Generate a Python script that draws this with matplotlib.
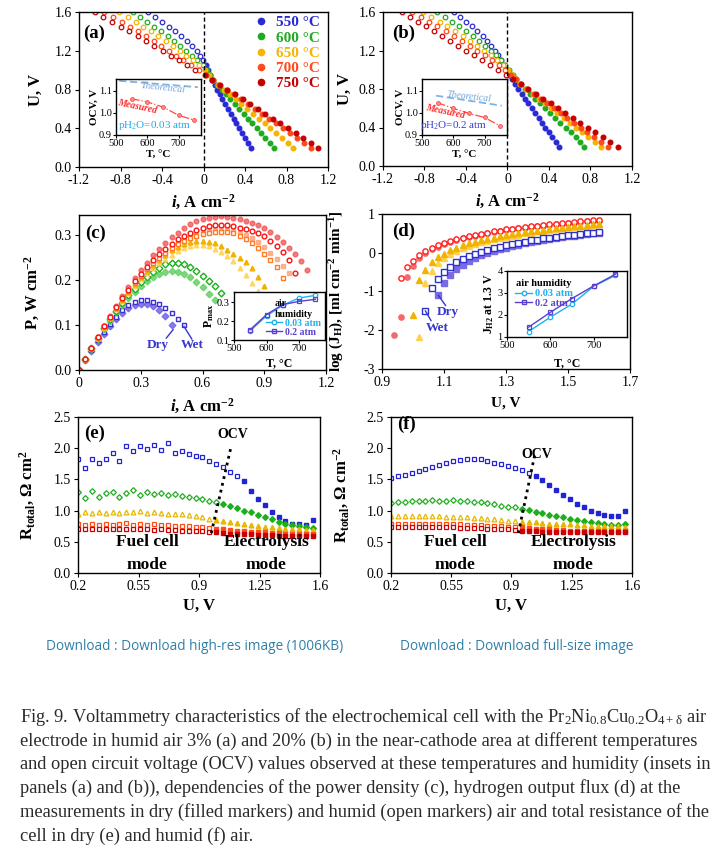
import numpy as np
import matplotlib
matplotlib.use("Agg")
import matplotlib.pyplot as plt
from matplotlib.lines import Line2D

nan = np.nan

# ---- data ----
temps = [550, 600, 650, 700, 750]
temp_labels = ["550 °C", "600 °C", "650 °C", "700 °C", "750 °C"]

# (a), (b): current density at each voltage step
U_iv = [1.60, 1.55, 1.50, 1.45, 1.40, 1.35, 1.30, 1.25, 1.20, 1.15, 1.10, 1.05, 1.00, 0.95,
        0.90, 0.85, 0.80, 0.75, 0.70, 0.65, 0.60, 0.55, 0.50, 0.45, 0.40, 0.35, 0.30, 0.25, 0.20]
ia_550 = [-0.532, -0.47, -0.40, -0.337, -0.275, -0.215, -0.16, -0.107, -0.065, -0.033, -0.005, 0.02, 0.04, 0.062,
          0.085, 0.109, 0.133, 0.158, 0.183, 0.209, 0.235, 0.262, 0.29, 0.318, 0.344, 0.37, 0.397, 0.426, 0.455]
ia_600 = [-0.68, -0.61, -0.54, -0.475, -0.41, -0.345, -0.285, -0.225, -0.17, -0.115, -0.065, -0.005, 0.03, 0.062,
          0.094, 0.134, 0.176, 0.218, 0.26, 0.302, 0.344, 0.386, 0.428, 0.47, 0.512, 0.554, 0.596, 0.638, 0.68]
ia_650 = [-0.81, -0.73, -0.655, -0.58, -0.505, -0.435, -0.365, -0.295, -0.23, -0.165, -0.105, -0.045, 0.015, 0.054,
          0.092, 0.144, 0.20, 0.255, 0.31, 0.366, 0.421, 0.477, 0.532, 0.588, 0.644, 0.699, 0.755, 0.81, 0.866]
ia_700 = [-0.956, -0.87, -0.79, -0.71, -0.63, -0.555, -0.48, -0.405, -0.335, -0.265, -0.195, -0.125, -0.04, 0.025,
          0.089, 0.154, 0.222, 0.29, 0.357, 0.425, 0.492, 0.56, 0.627, 0.695, 0.762, 0.83, 0.898, 0.965, 1.033]
ia_750 = [-1.046, -0.964, -0.882, -0.80, -0.718, -0.636, -0.555, -0.474, -0.394, -0.314, -0.235, -0.157, -0.08, 0.012,
          0.086, 0.158, 0.231, 0.304, 0.377, 0.45, 0.523, 0.596, 0.669, 0.742, 0.815, 0.888, 0.961, 1.034, 1.107]
ib_550 = [-0.514, -0.455, -0.40, -0.345, -0.29, -0.24, -0.195, -0.155, -0.12, -0.088, -0.06, -0.033, -0.008, 0.018,
          0.045, 0.073, 0.103, 0.135, 0.168, 0.20, 0.233, 0.266, 0.299, 0.332, 0.365, 0.398, 0.432, 0.465, 0.498]
ib_600 = [-0.678, -0.605, -0.535, -0.465, -0.40, -0.335, -0.275, -0.215, -0.16, -0.11, -0.065, -0.022, 0.018, 0.052,
          0.085, 0.122, 0.17, 0.218, 0.267, 0.315, 0.364, 0.412, 0.46, 0.51, 0.56, 0.61, 0.66, 0.70, 0.739]
ib_650 = [-0.814, -0.735, -0.655, -0.58, -0.505, -0.43, -0.36, -0.29, -0.225, -0.16, -0.10, -0.045, 0.005, 0.045,
          0.085, 0.124, 0.183, 0.243, 0.302, 0.362, 0.422, 0.481, 0.541, 0.601, 0.661, 0.72, 0.78, 0.84, 0.90]
ib_700 = [-0.916, -0.835, -0.755, -0.675, -0.595, -0.515, -0.44, -0.365, -0.29, -0.22, -0.15, -0.085, -0.02, 0.035,
          0.085, 0.126, 0.19, 0.255, 0.319, 0.384, 0.448, 0.513, 0.577, 0.642, 0.706, 0.771, 0.835, 0.90, 0.964]
ib_750 = [-1.013, -0.935, -0.858, -0.781, -0.705, -0.628, -0.551, -0.475, -0.40, -0.323, -0.246, -0.17, -0.092, -0.015,
          0.057, 0.129, 0.20, 0.272, 0.344, 0.415, 0.487, 0.559, 0.631, 0.702, 0.774, 0.846, 0.918, 0.989, 1.061]

# insets (a), (b): OCV vs T
T_theor_a = [510, 762]
ocv_theor_a = [1.144, 1.115]
ocv_meas_a = [1.063, 1.049, 1.026, 0.989, 0.967]
T_theor_b = [545, 755]
ocv_theor_b = [1.077, 1.032]
ocv_meas_b = [1.045, 1.020, 0.997, 0.979, 0.941]

# (c): power density vs current density
i_c = [0.00, 0.03, 0.06, 0.09, 0.12, 0.15, 0.18, 0.21, 0.24, 0.27, 0.30, 0.33, 0.36, 0.39, 0.42, 0.45, 0.48, 0.51,
       0.54, 0.57, 0.60, 0.63, 0.66, 0.69, 0.72, 0.75, 0.78, 0.81, 0.84, 0.87, 0.90, 0.93, 0.96, 0.99, 1.02, 1.05,
       1.08, 1.11]
P_750_dry = [0, 0.025, 0.050, 0.074, 0.098, 0.121, 0.143, 0.165, 0.185, 0.204, 0.222, 0.239, 0.255, 0.270, 0.283,
             0.295, 0.306, 0.316, 0.324, 0.331, 0.336, 0.339, 0.341, 0.342, 0.341, 0.339, 0.336, 0.332, 0.327, 0.322,
             0.315, 0.307, 0.297, 0.285, 0.272, 0.259, 0.242, 0.222]
P_750_wet = [0, 0.025, 0.050, 0.074, 0.097, 0.119, 0.140, 0.160, 0.179, 0.197, 0.214, 0.230, 0.245, 0.258, 0.270,
             0.281, 0.291, 0.299, 0.306, 0.312, 0.317, 0.320, 0.322, 0.323, 0.322, 0.320, 0.317, 0.313, 0.309, 0.304,
             0.298, 0.288, 0.276, 0.262, 0.245, 0.215]
P_700_wet = [0, 0.025, 0.050, 0.074, 0.097, 0.118, 0.139, 0.158, 0.176, 0.193, 0.209, 0.224, 0.238, 0.250, 0.261,
             0.271, 0.280, 0.288, 0.294, 0.299, 0.303, 0.306, 0.308, 0.308, 0.307, 0.304, 0.299, 0.292, 0.283, 0.272,
             0.259, 0.245, 0.229, 0.205]
P_700_dry = [0, 0.025, 0.050, 0.074, 0.097, 0.119, 0.140, 0.160, 0.178, 0.196, 0.212, 0.228, 0.242, 0.255, 0.267,
             0.277, 0.287, 0.295, 0.302, 0.307, 0.311, 0.314, 0.315, 0.315, 0.314, 0.311, 0.307, 0.301, 0.293, 0.284,
             0.273, 0.261, 0.247, 0.232, 0.215]
P_650_wet = [0, 0.025, 0.050, 0.073, 0.096, 0.117, 0.137, 0.156, 0.174, 0.191, 0.206, 0.220, 0.233, 0.245, 0.256,
             0.266, 0.274, 0.281, 0.286, 0.288, 0.288, 0.286, 0.282, 0.276, 0.268, 0.259, 0.250, 0.240, 0.226, 0.207,
             0.187]
P_650_dry = [0, 0.025, 0.049, 0.072, 0.094, 0.115, 0.135, 0.153, 0.171, 0.187, 0.202, 0.215, 0.227, 0.238, 0.248,
             0.257, 0.265, 0.271, 0.276, 0.278, 0.278, 0.275, 0.270, 0.263, 0.254, 0.242, 0.228, 0.212, 0.194, 0.176]
P_600_wet = [0, 0.024, 0.048, 0.071, 0.093, 0.113, 0.132, 0.150, 0.166, 0.181, 0.195, 0.208, 0.219, 0.228, 0.235,
             0.238, 0.238, 0.235, 0.229, 0.221, 0.210, 0.198, 0.186, 0.172]
P_600_dry = [0, 0.024, 0.047, 0.070, 0.091, 0.110, 0.128, 0.145, 0.160, 0.174, 0.186, 0.197, 0.206, 0.213, 0.218,
             0.220, 0.219, 0.214, 0.206, 0.196, 0.184, 0.170, 0.155]
P_550_wet = [0, 0.023, 0.045, 0.066, 0.085, 0.103, 0.119, 0.133, 0.144, 0.152, 0.156, 0.156, 0.152, 0.146, 0.137,
             0.126, 0.114, 0.101]
P_550_dry = [0, 0.022, 0.043, 0.063, 0.081, 0.098, 0.113, 0.126, 0.137, 0.145, 0.148, 0.147, 0.142, 0.133, 0.120,
             0.101]
Pmax_003 = [0.149, 0.228, 0.285, 0.323, 0.337]
Pmax_02 = [0.155, 0.235, 0.288, 0.305, 0.316]

# (d): log hydrogen flux vs voltage
U_d = [0.94, 0.96, 0.98, 1.00, 1.02, 1.04, 1.06, 1.08, 1.10, 1.12, 1.14, 1.16, 1.18, 1.20, 1.22, 1.24, 1.26,
       1.28, 1.30, 1.32, 1.34, 1.36, 1.38, 1.40, 1.42, 1.44, 1.46, 1.48, 1.50, 1.52, 1.54, 1.56, 1.58, 1.60]
J_750_wet = [nan, -0.66, -0.38, -0.21, -0.05, 0.04, 0.12, 0.19, 0.25, 0.30, 0.35, 0.39, 0.43, 0.46, 0.49, 0.52,
             0.55, 0.57, 0.60, 0.62, 0.64, 0.66, 0.68, 0.70, 0.72, 0.73, 0.75, 0.76, 0.78, 0.79, 0.81, 0.82, 0.84, 0.85]
J_750_dry = [-2.11, -1.67, -0.63, -0.33, -0.14, 0.0, 0.09, 0.16, 0.22, 0.28, 0.33, 0.37, 0.41, 0.44, 0.47, 0.50,
             0.53, 0.56, 0.58, 0.60, 0.63, 0.65, 0.67, 0.69, 0.70, 0.72, 0.73, 0.75, 0.76, 0.78, 0.79, 0.81, 0.82, 0.83]
J_650_wet = [nan, nan, nan, -1.60, -0.70, -0.45, -0.23, -0.12, -0.02, 0.06, 0.13, 0.19, 0.24, 0.28, 0.32, 0.36,
             0.39, 0.42, 0.45, 0.48, 0.50, 0.53, 0.55, 0.57, 0.59, 0.61, 0.63, 0.65, 0.67, 0.68, 0.70, 0.71, 0.73, 0.74]
J_650_dry = [nan, nan, nan, nan, -2.18, -0.77, -0.47, -0.27, -0.14, -0.04, 0.04, 0.11, 0.17, 0.22, 0.27, 0.31,
             0.35, 0.38, 0.41, 0.44, 0.47, 0.50, 0.52, 0.55, 0.57, 0.59, 0.61, 0.63, 0.66, 0.67, 0.69, 0.70, 0.72, 0.73]
J_550_wet = [nan, nan, nan, nan, nan, -1.50, -0.91, -0.67, -0.49, -0.36, -0.25, -0.17, -0.09, -0.03, 0.03, 0.08,
             0.12, 0.16, 0.20, 0.23, 0.26, 0.29, 0.32, 0.34, 0.37, 0.39, 0.41, 0.43, 0.45, 0.47, 0.49, 0.50, 0.52, 0.54]
J_550_dry = [nan, nan, nan, nan, nan, nan, nan, -1.10, -0.77, -0.57, -0.43, -0.31, -0.22, -0.14, -0.07, -0.01,
             0.04, 0.09, 0.13, 0.17, 0.21, 0.24, 0.27, 0.30, 0.33, 0.35, 0.38, 0.40, 0.42, 0.44, 0.46, 0.48, 0.50, 0.52]
JH2_003 = [1.25, 1.90, 2.50, 3.30, 3.80]
JH2_02 = [1.45, 2.12, 2.75, 3.32, 3.85]

# (e), (f): total resistance vs voltage
U_r = [0.20, 0.24, 0.28, 0.32, 0.36, 0.40, 0.44, 0.48, 0.52, 0.56, 0.60, 0.64, 0.68, 0.72, 0.76, 0.80, 0.84,
       0.88, 0.92, 0.96, 1.00, 1.04, 1.08, 1.12, 1.16, 1.20, 1.24, 1.28, 1.32, 1.36, 1.40, 1.44, 1.48, 1.52, 1.56]
Re_550 = [1.82, 1.68, 1.82, 1.76, 1.83, 1.92, 1.79, 2.04, 1.95, 2.03, 1.98, 2.05, 1.97, 2.08, 1.93, 1.95, 1.91,
          1.88, 1.86, 1.80, 1.74, 1.70, 1.62, 1.55, 1.47, 1.32, 1.19, 1.09, 0.98, 0.89, 0.83, 0.79, 0.78, 0.77, 0.85]
Re_600 = [1.30, 1.20, 1.32, 1.22, 1.28, 1.30, 1.22, 1.29, 1.33, 1.25, 1.30, 1.26, 1.28, 1.25, 1.27, 1.23, 1.22,
          1.20, 1.18, 1.15, 1.13, 1.10, 1.07, 1.04, 1.00, 0.97, 0.93, 0.89, 0.86, 0.82, 0.79, 0.77, 0.75, 0.73, 0.72]
Re_650 = [0.95, 0.97, 0.96, 0.98, 0.96, 0.97, 0.96, 0.98, 0.97, 0.99, 0.96, 0.97, 0.96, 0.95, 0.95, 0.94, 0.93,
          0.91, 0.89, 0.87, 0.85, 0.83, 0.81, 0.80, 0.78, 0.77, 0.75, 0.74, 0.73, 0.72, 0.71, 0.70, 0.70, 0.69, 0.69]
Re_700 = [0.78, 0.77, 0.78, 0.77, 0.78, 0.77, 0.78, 0.80, 0.77, 0.78, 0.77, 0.78, 0.77, 0.77, 0.76, 0.76, 0.75,
          0.74, 0.73, 0.72, 0.71, 0.70, 0.69, 0.68, 0.67, 0.66, 0.66, 0.65, 0.64, 0.64, 0.63, 0.63, 0.62, 0.62, 0.62]
Re_750 = [0.71, 0.70, 0.71, 0.70, 0.71, 0.70, 0.70, 0.71, 0.70, 0.70, 0.70, 0.69, 0.70, 0.69, 0.69, 0.68, 0.68,
          0.67, 0.67, 0.66, 0.65, 0.64, 0.63, 0.63, 0.62, 0.62, 0.61, 0.61, 0.61, 0.60, 0.60, 0.60, 0.60, 0.60, 0.60]
Rf_550 = [1.52, 1.55, 1.57, 1.60, 1.63, 1.67, 1.70, 1.73, 1.76, 1.79, 1.81, 1.83, 1.83, 1.82, 1.80, 1.77, 1.74,
          1.71, 1.68, 1.65, 1.61, 1.55, 1.49, 1.41, 1.33, 1.25, 1.18, 1.11, 1.05, 1.00, 0.96, 0.93, 0.91, 0.91, 0.99]
Rf_600 = [1.12, 1.13, 1.14, 1.15, 1.16, 1.16, 1.17, 1.16, 1.16, 1.17, 1.16, 1.15, 1.14, 1.13, 1.12, 1.10, 1.08,
          1.06, 1.05, 1.03, 1.01, 0.98, 0.96, 0.93, 0.91, 0.89, 0.87, 0.85, 0.83, 0.81, 0.80, 0.78, 0.77, 0.77, 0.78]
Rf_650 = [0.92, 0.92, 0.91, 0.91, 0.91, 0.91, 0.91, 0.91, 0.90, 0.90, 0.89, 0.89, 0.88, 0.88, 0.87, 0.86, 0.85,
          0.84, 0.83, 0.82, 0.82, 0.81, 0.80, 0.79, 0.79, 0.78, 0.78, 0.77, 0.77, 0.76, 0.76, 0.75, 0.75, 0.75, 0.74]
Rf_700 = [0.79, 0.79, 0.78, 0.79, 0.78, 0.78, 0.79, 0.78, 0.78, 0.78, 0.78, 0.77, 0.77, 0.77, 0.76, 0.76, 0.75,
          0.74, 0.73, 0.73, 0.72, 0.71, 0.70, 0.70, 0.69, 0.69, 0.68, 0.68, 0.68, 0.67, 0.67, 0.67, 0.67, 0.67, 0.67]
Rf_750 = [0.74, 0.74, 0.73, 0.73, 0.73, 0.73, 0.73, 0.73, 0.73, 0.73, 0.72, 0.72, 0.72, 0.72, 0.71, 0.71, 0.71,
          0.70, 0.69, 0.68, 0.67, 0.67, 0.66, 0.66, 0.66, 0.66, 0.66, 0.66, 0.66, 0.66, 0.66, 0.66, 0.66, 0.66, 0.66]
U_switch_e = [1.13, 1.02, 1.00, 0.98, 0.98]
U_switch_f = [1.02, 0.96, 0.96, 0.94, 0.94]
ocv_line_e = ([0.971, 1.086], [0.64, 2.03])
ocv_line_f = ([0.940, 1.037], [0.64, 1.92])

# ---- style ----
plt.rcParams.update({
    "font.family": "Liberation Serif",
    "mathtext.fontset": "custom",
    "mathtext.rm": "Liberation Serif",
    "mathtext.it": "Liberation Serif:italic:bold",
    "mathtext.bf": "Liberation Serif:bold",
    "mathtext.default": "regular",
    "axes.unicode_minus": False,
    "xtick.direction": "out",
    "ytick.direction": "out",
    "xtick.major.size": 3,
    "ytick.major.size": 3,
    "xtick.major.pad": 2,
    "ytick.major.pad": 2,
    "xtick.labelsize": 10,
    "ytick.labelsize": 10,
    "axes.linewidth": 1.0,
})

iv_colors = ["#2a2ad4", "#1faa1f", "#f5b400", "#ff4a1c", "#c40000"]
r_colors = ["#2323d6", "#1fae1f", "#e6b800", "#ff4d1a", "#cc0000"]
r_markers = ["s", "D", "^", "s", "s"]
cyan = "#1fb0f0"
purple = "#5a3fd0"
dw_blue = "#3535d0"

W, H = 726, 848
fig = plt.figure(figsize=(W / 100, H / 100), dpi=100)


def box(x0, y0, x1, y1, z=1):
    ax = fig.add_axes([x0 / W, 1 - y1 / H, (x1 - x0) / W, (y1 - y0) / H])
    ax.set_zorder(z)
    return ax


def bold_labels(ax, xl, yl, xpos, ypos, size=12):
    ax.set_xlabel(xl, fontsize=size, fontweight="bold")
    ax.set_ylabel(yl, fontsize=size, fontweight="bold")
    ax.xaxis.set_label_coords(0.5, xpos)
    ax.yaxis.set_label_coords(ypos, 0.5)


def panel_tag(ax, tag, x, y):
    ax.text(x, y, tag, transform=ax.transAxes, fontsize=13.5, fontweight="bold", va="center", ha="left")


def inset_style(ax):
    ax.tick_params(labelsize=7.5, length=2, pad=1.2)
    for s in ax.spines.values():
        s.set_linewidth(1.0)


# ---- (a) and (b) ----
def iv_panel(ax, sets):
    u = np.array(U_iv)
    for vals, c in zip(sets, iv_colors):
        i = np.array(vals)
        neg = i < 0
        ax.plot(i[neg], u[neg], "o", ls="", mfc="white", mec=c, mew=0.9, ms=3.3)
        ax.plot(i[~neg], u[~neg], "o", ls="", color=c, ms=3.3)
    ax.axvline(0, color="black", ls=(0, (3, 2)), lw=1.0)
    ax.set_xlim(-1.2, 1.2)
    ax.set_ylim(0, 1.6)
    ax.set_xticks([-1.2, -0.8, -0.4, 0, 0.4, 0.8, 1.2])
    ax.set_xticklabels(["-1.2", "-0.8", "-0.4", "0", "0.4", "0.8", "1.2"])
    ax.set_yticks([0, 0.4, 0.8, 1.2, 1.6])
    ax.set_yticklabels(["0.0", "0.4", "0.8", "1.2", "1.6"])


def ocv_inset(ax, T_th, v_th, v_meas, th_xy, me_xy, ph_xy, ph_text, ph_color):
    ax.plot(T_th, v_th, color="#7fb2e0", ls=(0, (4, 2)), lw=1.3)
    ax.plot(temps, v_meas, color="#ff4a4a", ls="-.", lw=0.9, marker="o", ms=2.8,
            mfc="#ff8a8a", mec="#ff4a4a", mew=0.6)
    ax.set_xlim(500, 772)
    ax.set_ylim(0.9, 1.152)
    ax.set_xticks([500, 600, 700])
    ax.set_yticks([0.9, 1.0, 1.1])
    ax.set_yticklabels(["0.9", "1.0", "1.1"])
    inset_style(ax)
    ax.text(*th_xy, "Theoretical", color="#6fa6dc", fontsize=7, style="italic", rotation=-6,
            ha="center", va="center")
    ax.text(*me_xy, "Measured", color="#ff2a2a", fontsize=7, style="italic", fontweight="bold",
            rotation=-12, ha="center", va="center")
    ax.text(*ph_xy, ph_text, color=ph_color, fontsize=8, ha="center", va="center")
    ax.set_xlabel("T, °C", fontsize=8, fontweight="bold")
    ax.set_ylabel("OCV, V", fontsize=8, fontweight="bold")
    ax.xaxis.set_label_coords(0.5, -0.27)
    ax.yaxis.set_label_coords(-0.2, 0.5)


ax_a = box(79, 12, 328, 167)
iv_panel(ax_a, [ia_550, ia_600, ia_650, ia_700, ia_750])
bold_labels(ax_a, r"$\mathit{i}$, A cm$^{-2}$", "U, V", -0.165, -0.14)
panel_tag(ax_a, "(a)", 0.016, 0.865)
handles = [Line2D([], [], marker="o", ls="", color=c, ms=4.5) for c in iv_colors]
ax_a.legend(handles, temp_labels, loc="upper right", bbox_to_anchor=(1.01, 1.045), frameon=False,
            prop={"weight": "bold", "size": 11}, labelcolor=iv_colors, handlelength=0.6,
            handletextpad=0.7, labelspacing=0.1, borderaxespad=0.3)

ins_a = box(116, 79, 201, 135, z=3)
ocv_inset(ins_a, T_theor_a, ocv_theor_a, ocv_meas_a, (650, 1.114), (568, 1.027), (622, 0.945),
          "pH$_2$O=0.03 atm", "#22a8f0")

ax_b = box(383, 12, 632, 166)
iv_panel(ax_b, [ib_550, ib_600, ib_650, ib_700, ib_750])
bold_labels(ax_b, r"$\mathit{i}$, A cm$^{-2}$", "U, V", -0.17, -0.12)
panel_tag(ax_b, "(b)", 0.035, 0.86)

ins_b = box(422, 79, 507, 135, z=3)
ocv_inset(ins_b, T_theor_b, ocv_theor_b, ocv_meas_b, (650, 1.070), (573, 1.003), (600, 0.942),
          "pH$_2$O=0.2 atm", "#3a3ad6")

# ---- (c) ----
ax_c = box(79, 215, 326, 370)
c_series = [
    (P_550_dry, "D", "#6f5ce6", True, 0.8),
    (P_550_wet, "s", "#3a2ed6", False, 1.0),
    (P_600_dry, "D", "#5fcf5f", True, 0.8),
    (P_600_wet, "D", "#1fae1f", False, 1.0),
    (P_650_dry, "^", "#ffd050", True, 0.8),
    (P_650_wet, "^", "#f2b200", True, 1.0),
    (P_700_dry, "s", "#ffa27a", True, 0.8),
    (P_700_wet, "s", "#ff7b24", False, 1.0),
    (P_750_dry, "o", "#f25050", True, 0.75),
    (P_750_wet, "o", "#ff1111", False, 1.0),
]
for vals, m, c, filled, a in c_series:
    x = i_c[:len(vals)]
    if filled:
        ax_c.plot(x, vals, m, ls="", color=c, ms=3.4, alpha=a)
    else:
        ax_c.plot(x, vals, m, ls="", mfc="white", mec=c, mew=1.0, ms=3.4)
ax_c.set_xlim(0, 1.2)
ax_c.set_ylim(0, 0.345)
ax_c.set_xticks([0, 0.3, 0.6, 0.9, 1.2])
ax_c.set_xticklabels(["0", "0.3", "0.6", "0.9", "1.2"])
ax_c.set_yticks([0, 0.1, 0.2, 0.3])
ax_c.set_yticklabels(["0.0", "0.1", "0.2", "0.3"])
bold_labels(ax_c, r"$\mathit{i}$, A cm$^{-2}$", "P, W cm$^{-2}$", -0.17, -0.15)
panel_tag(ax_c, "(c)", 0.024, 0.88)
ax_c.plot([0.457, 0.424], [0.0896, 0.071], color=dw_blue, lw=1.0)
ax_c.plot([0.51, 0.548], [0.097, 0.069], color=dw_blue, lw=1.0)
ax_c.text(0.384, 0.056, "Dry", color=dw_blue, fontsize=9.5, fontweight="bold", ha="center", va="center")
ax_c.text(0.548, 0.056, "Wet", color=dw_blue, fontsize=9.5, fontweight="bold", ha="center", va="center")

ins_c = box(234, 292, 325, 340, z=3)
ins_c.plot(temps, Pmax_003, "-o", color=cyan, mfc="white", ms=3.2, lw=1.0, mew=0.9)
ins_c.plot(temps, Pmax_02, "-s", color=purple, mfc="none", ms=3.2, lw=1.0, mew=0.9)
ins_c.set_xlim(500, 780)
ins_c.set_ylim(0.1, 0.355)
ins_c.set_xticks([500, 600, 700])
ins_c.set_yticks([0.1, 0.2, 0.3])
inset_style(ins_c)
ins_c.set_xlabel("T, °C", fontsize=8.5, fontweight="bold")
ins_c.set_ylabel("P$_{max}$", fontsize=8.5, fontweight="bold")
ins_c.xaxis.set_label_coords(0.5, -0.36)
ins_c.yaxis.set_label_coords(-0.2, 0.5)
h_c = [Line2D([], [], color=cyan, marker="o", mfc="white", ms=3.2, lw=1.0),
       Line2D([], [], color=purple, marker="s", mfc="none", ms=3.2, lw=1.0)]
ins_c.legend(h_c, ["0.03 atm", "0.2 atm"], loc="lower right", bbox_to_anchor=(1.03, -0.07), frameon=False,
             title="air\nhumidity", title_fontproperties={"weight": "bold", "size": 7},
             prop={"weight": "bold", "size": 7}, labelcolor=[cyan, purple], handlelength=1.6,
             handletextpad=0.3, labelspacing=0.0, borderpad=0.2)

# ---- (d) ----
ax_d = box(382, 214, 630, 369)
d_series = [
    (J_750_dry, "o", "#f46a6a", True),
    (J_750_wet, "o", "#ff2020", False),
    (J_650_dry, "^", "#ffcf4d", True),
    (J_650_wet, "^", "#f0b400", True),
    (J_550_dry, "s", "#7a6ae6", True),
    (J_550_wet, "s", "#3030cc", False),
]
for vals, m, c, filled in d_series:
    if filled:
        ax_d.plot(U_d, vals, m, ls="", color=c, ms=3.8)
    else:
        ax_d.plot(U_d, vals, m, ls="", mfc="white", mec=c, mew=1.0, ms=3.8)
ax_d.set_xlim(0.9, 1.7)
ax_d.set_ylim(-3, 1)
ax_d.set_xticks([0.9, 1.1, 1.3, 1.5, 1.7])
ax_d.set_yticks([-3, -2, -1, 0, 1])
bold_labels(ax_d, "U, V", "log (J$_{H}$), [ml cm$^{-2}$ min$^{-1}$]", -0.18, -0.145, size=11)
panel_tag(ax_d, "(d)", 0.04, 0.886)
ax_d.plot([1.082, 1.105], [-1.1, -1.36], color=dw_blue, lw=1.0)
ax_d.plot([1.04, 1.058], [-1.5, -1.75], color=dw_blue, lw=1.0)
ax_d.text(1.113, -1.52, "Dry", color=dw_blue, fontsize=9.5, fontweight="bold", ha="center", va="center")
ax_d.text(1.079, -1.95, "Wet", color=dw_blue, fontsize=9.5, fontweight="bold", ha="center", va="center")

ins_d = box(507, 271, 627, 337, z=3)
ins_d.plot(temps, JH2_003, "-o", color=cyan, mfc="white", ms=3.2, lw=1.0, mew=0.9)
ins_d.plot(temps, JH2_02, "-s", color=purple, mfc="none", ms=3.2, lw=1.0, mew=0.9)
ins_d.set_xlim(500, 777)
ins_d.set_ylim(1, 4)
ins_d.set_xticks([500, 600, 700])
ins_d.set_yticks([1, 2, 3, 4])
inset_style(ins_d)
ins_d.set_xlabel("T, °C", fontsize=8.5, fontweight="bold")
ins_d.set_ylabel("J$_{H2}$ at 1.3 V", fontsize=8.5, fontweight="bold")
ins_d.xaxis.set_label_coords(0.5, -0.3)
ins_d.yaxis.set_label_coords(-0.09, 0.5)
ins_d.legend(h_c, ["0.03 atm", "0.2 atm"], loc="upper left", bbox_to_anchor=(0.0, 1.0), frameon=False,
             title="air humidity", title_fontproperties={"weight": "bold", "size": 7.5},
             prop={"weight": "bold", "size": 7.5}, labelcolor=[cyan, purple], handlelength=1.6,
             handletextpad=0.3, labelspacing=0.05, borderpad=0.3)


# ---- (e) and (f) ----
def r_panel(ax, sets, switch, ocv_line, ocv_xy, fc_x, el_x):
    u = np.array(U_r)
    for vals, c, m, us in zip(sets, r_colors, r_markers, switch):
        r = np.array(vals)
        low = u < us
        ms = 2.9 if m == "D" else 3.4
        ax.plot(u[low], r[low], m, ls="", mfc="white", mec=c, mew=0.9, ms=ms)
        ax.plot(u[~low], r[~low], m, ls="", color=c, ms=ms)
    ax.plot(*ocv_line, color="black", ls=(0, (1, 1.5)), lw=2.0)
    ax.text(*ocv_xy, "OCV", fontsize=10, fontweight="bold", ha="center", va="center")
    ax.text(fc_x, 0.49, "Fuel cell", fontsize=12.5, fontweight="bold", ha="center", va="center")
    ax.text(fc_x, 0.13, "mode", fontsize=12.5, fontweight="bold", ha="center", va="center")
    ax.text(el_x, 0.49, "Electrolysis", fontsize=12.5, fontweight="bold", ha="center", va="center")
    ax.text(el_x, 0.13, "mode", fontsize=12.5, fontweight="bold", ha="center", va="center")
    ax.set_xlim(0.2, 1.6)
    ax.set_ylim(0, 2.5)
    ax.set_xticks([0.2, 0.55, 0.9, 1.25, 1.6])
    ax.set_xticklabels(["0.2", "0.55", "0.9", "1.25", "1.6"])
    ax.set_yticks([0, 0.5, 1.0, 1.5, 2.0, 2.5])
    ax.set_yticklabels(["0.0", "0.5", "1.0", "1.5", "2.0", "2.5"])


ax_e = box(78, 417, 320, 573)
r_panel(ax_e, [Re_550, Re_600, Re_650, Re_700, Re_750], U_switch_e, ocv_line_e, (1.098, 2.22), 0.60, 1.29)
bold_labels(ax_e, "U, V", "R$_{total}$, Ω cm$^{2}$", -0.16, -0.17)
panel_tag(ax_e, "(e)", 0.024, 0.896)

ax_f = box(391, 417, 632, 573)
r_panel(ax_f, [Rf_550, Rf_600, Rf_650, Rf_700, Rf_750], U_switch_f, ocv_line_f, (1.046, 1.90), 0.572, 1.258)
bold_labels(ax_f, "U, V", "R$_{total}$, Ω cm$^{-2}$", -0.16, -0.166)
panel_tag(ax_f, "(f)", 0.024, 0.95)

# ---- page text ----
link = "#2f7fa8"
fig.text(46 / W, 1 - 647 / H, "Download : Download high-res image (1006KB)", color=link, fontsize=9.8,
         family="Open Sans", va="center")
fig.text(400 / W, 1 - 647 / H, "Download : Download full-size image", color=link, fontsize=9.8,
         family="Open Sans", va="center")

caption = [
    "Fig. 9. Voltammetry characteristics of the electrochemical cell with the "
    "Pr$_2$Ni$_{0.8}$Cu$_{0.2}$O$_{4+\u03b4}$ air",
    "electrode in humid air 3% (a) and 20% (b) in the near-cathode area at different temperatures",
    "and open circuit voltage (OCV) values observed at these temperatures and humidity (insets in",
    "panels (a) and (b)), dependencies of the power density (c), hydrogen output flux (d) at the",
    "measurements in dry (filled markers) and humid (open markers) air and total resistance of the",
    "cell in dry (e) and humid (f) air.",
]
for k, line in enumerate(caption):
    fig.text(20 / W, 1 - (717 + 23.8 * k) / H, line, fontsize=13.2, color="#2a2a2a", va="center")

fig.savefig("out.png", dpi=100)
